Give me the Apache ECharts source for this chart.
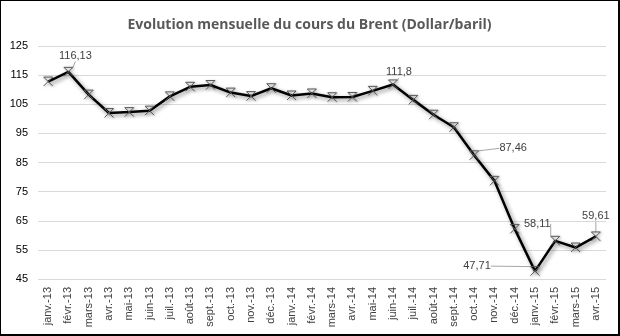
<!DOCTYPE html>
<html>
<head>
<meta charset="utf-8">
<script src="https://cdn.jsdelivr.net/npm/echarts@6/dist/echarts.min.js"></script>
<style>
  html, body { margin: 0; padding: 0; background: #fff; }
  #chart { width: 620px; height: 336px; box-sizing: border-box; border: 1px solid #000; border-right-width: 2px; border-bottom-width: 2px; }
</style>
</head>
<body>
<div id="chart"></div>
<script>
// Months (French short format)
const months = [
  'janv.-13', 'févr.-13', 'mars-13', 'avr.-13', 'mai-13', 'juin-13', 'juil.-13', 'août-13',
  'sept.-13', 'oct.-13', 'nov.-13', 'déc.-13', 'janv.-14', 'févr.-14', 'mars-14', 'avr.-14',
  'mai-14', 'juin-14', 'juil.-14', 'août-14', 'sept.-14', 'oct.-14', 'nov.-14', 'déc.-14',
  'janv.-15', 'févr.-15', 'mars-15', 'avr.-15'
];

// Brent monthly average price, dollars per barrel
const brent = [
  112.8, 116.13, 108.3, 102.0, 102.3, 102.8, 107.7, 111.0,
  111.6, 109.0, 107.8, 110.5, 108.0, 108.7, 107.4, 107.5,
  109.6, 111.8, 106.5, 101.4, 97.1, 87.46, 78.7, 62.2,
  47.71, 58.11, 55.8, 59.61
];

// Months whose value is written next to the point
const labelled = [1, 17, 21, 24, 25, 27];

// Y axis range
const yMin = 45, yMax = 125, yStep = 10;

// Label offsets (dx, dy) from the point, in pixels
const labelShift = {
  1: [7, -16],
  17: [6, -12],
  21: [39, -7],
  24: [-58, -5],
  25: [-18, -17],
  27: [0, -20]
};

const chart = echarts.init(document.getElementById('chart'));
const textColor = '#404040';

chart.setOption({
  animation: false,
  title: {
    text: 'Evolution mensuelle du cours du Brent (Dollar/baril)',
    left: 'center',
    top: 12,
    textStyle: { fontFamily: 'Open Sans', fontSize: 14, fontWeight: 'bold', color: '#595959' }
  },
  grid: { left: 37, right: 12, top: 45, bottom: 55 },
  xAxis: {
    type: 'category',
    data: months,
    boundaryGap: true,
    axisLine: { show: false },
    axisTick: { show: false },
    axisLabel: {
      rotate: 90, interval: 0, margin: 8,
      fontFamily: 'Liberation Sans', fontSize: 11, color: textColor
    }
  },
  yAxis: {
    type: 'value',
    min: yMin, max: yMax, interval: yStep,
    axisLine: { show: false },
    axisTick: { show: false },
    axisLabel: { fontFamily: 'Liberation Sans', fontSize: 11, color: '#000', margin: 10 },
    splitLine: { lineStyle: { color: '#d9d9d9', width: 1 } }
  },
  series: [{
    type: 'line',
    data: brent.map((v, i) => ({
      value: v,
      label: { show: labelled.includes(i) }
    })),
    symbol: 'path://M0,0L10,10M10,0L0,10M0,0L10,0',
    symbolSize: 9,
    showAllSymbol: true,
    lineStyle: {
      color: '#000', width: 2.5,
      shadowColor: 'rgba(0,0,0,0.45)', shadowBlur: 4, shadowOffsetX: 2, shadowOffsetY: 2
    },
    itemStyle: {
      color: 'rgba(160,160,160,0.6)', borderColor: '#555', borderWidth: 1,
      shadowColor: 'rgba(0,0,0,0.4)', shadowBlur: 3, shadowOffsetX: 1, shadowOffsetY: 1
    },
    label: {
      show: false,
      position: 'inside',
      formatter: p => String(p.value).replace('.', ','),
      fontFamily: 'Liberation Sans', fontSize: 11, color: textColor
    },
    labelLine: { show: true, lineStyle: { color: '#a6a6a6', width: 1 } },
    labelLayout: p => {
      const s = labelShift[p.dataIndex];
      return s ? { dx: s[0], dy: s[1] } : {};
    }
  }]
});
</script>
</body>
</html>
